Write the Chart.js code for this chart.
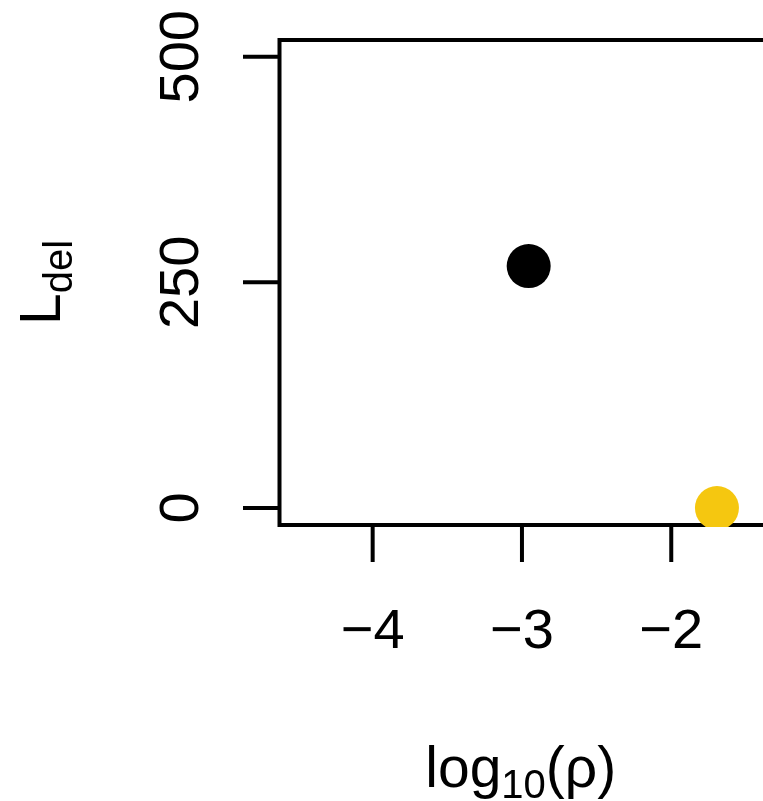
<!DOCTYPE html>
<html>
<head>
<meta charset="utf-8">
<script src="https://cdn.jsdelivr.net/npm/chart.js@4/dist/chart.umd.min.js"></script>
<style>
  html, body { margin: 0; padding: 0; background: #fff; overflow: hidden; }
  #wrap { width: 800px; height: 801px; position: relative; }
</style>
</head>
<body>
<div id="wrap"><canvas id="c" width="800" height="801"></canvas></div>
<script>
// ---- data ----
const logRho = [-2.955, -1.694];
const lDel = [268, 0];
const pointColors = ['#000000', '#F5C710'];
const xTicks = [-4, -3, -2];
const yTicks = [0, 250, 500];
const xRange = [-4.624, -1.352];
const yRange = [-18.8, 518.5];

const FONT = '"Liberation Sans", Arial, Helvetica, sans-serif';
const fmt = v => (v < 0 ? '\u2212' + Math.abs(v) : String(v));

const axesPlugin = {
  id: 'rAxes',
  beforeDatasetsDraw(chart) {
    const ctx = chart.ctx;
    const a = chart.chartArea;
    ctx.save();
    ctx.strokeStyle = '#000';
    ctx.lineWidth = 4;
    ctx.lineCap = 'butt';
    // box (right side lies beyond the visible window)
    ctx.strokeRect(a.left, a.top, a.right - a.left, a.bottom - a.top);
    ctx.restore();
  },
  afterDraw(chart) {
    const ctx = chart.ctx;
    const a = chart.chartArea;
    const xs = chart.scales.x, ys = chart.scales.y;
    ctx.save();
    ctx.strokeStyle = '#000';
    ctx.fillStyle = '#000';
    ctx.lineWidth = 4;
    // x ticks
    xTicks.forEach(v => {
      const px = xs.getPixelForValue(v);
      ctx.beginPath();
      ctx.moveTo(px, a.bottom);
      ctx.lineTo(px, a.bottom + 37);
      ctx.stroke();
    });
    // y ticks
    yTicks.forEach(v => {
      const py = ys.getPixelForValue(v);
      ctx.beginPath();
      ctx.moveTo(a.left, py);
      ctx.lineTo(a.left - 36.5, py);
      ctx.stroke();
    });
    // x tick labels
    ctx.font = '56px ' + FONT;
    ctx.textAlign = 'center';
    ctx.textBaseline = 'alphabetic';
    xTicks.forEach(v => {
      ctx.fillText(fmt(v), xs.getPixelForValue(v), a.bottom + 123);
    });
    // y tick labels (rotated)
    yTicks.forEach(v => {
      const py = ys.getPixelForValue(v);
      ctx.save();
      ctx.translate(a.left - 82, py);
      ctx.rotate(-Math.PI / 2);
      ctx.textAlign = 'center';
      ctx.fillText(fmt(v), 0, 0);
      ctx.restore();
    });
    // x title: log10(ρ)
    const big = '57px ' + FONT, small = '40px ' + FONT;
    ctx.textAlign = 'left';
    ctx.font = big; const w1 = ctx.measureText('log').width;
    ctx.font = small; const w2 = ctx.measureText('10').width;
    ctx.font = big; const w3 = ctx.measureText('(\u03C1)').width;
    const cx = (a.left + a.right) / 2 - 3;
    let x0 = cx - (w1 + w2 + w3) / 2;
    const by = 787;
    ctx.font = big; ctx.fillText('log', x0, by);
    ctx.font = small; ctx.fillText('10', x0 + w1, by + 11);
    ctx.font = big; ctx.fillText('(\u03C1)', x0 + w1 + w2, by);
    // y title: L_del (rotated)
    ctx.font = big; const wL = ctx.measureText('L').width;
    ctx.font = small; const wd = ctx.measureText('del').width;
    const cy = (a.top + a.bottom) / 2;
    ctx.save();
    ctx.translate(60, cy);
    ctx.rotate(-Math.PI / 2);
    const s0 = -(wL + wd) / 2;
    ctx.font = big; ctx.fillText('L', s0, 0);
    ctx.font = small; ctx.fillText('del', s0 + wL, 12);
    ctx.restore();
    ctx.restore();
  }
};

new Chart(document.getElementById('c'), {
  type: 'scatter',
  data: {
    datasets: [{
      data: logRho.map((x, i) => ({ x: x, y: lDel[i] })),
      pointBackgroundColor: pointColors,
      pointBorderColor: pointColors,
      pointBorderWidth: 0,
      pointRadius: 22,
      pointHoverRadius: 22,
      clip: { left: 2, top: 2, right: 2, bottom: 2 }
    }]
  },
  options: {
    responsive: false,
    animation: false,
    events: [],
    layout: { padding: { left: 279.5, right: 32, top: 40, bottom: 276 } },
    plugins: { legend: { display: false }, tooltip: { enabled: false }, title: { display: false } },
    scales: {
      x: { type: 'linear', display: false, min: xRange[0], max: xRange[1] },
      y: { type: 'linear', display: false, min: yRange[0], max: yRange[1] }
    }
  },
  plugins: [axesPlugin]
});
</script>
</body>
</html>
